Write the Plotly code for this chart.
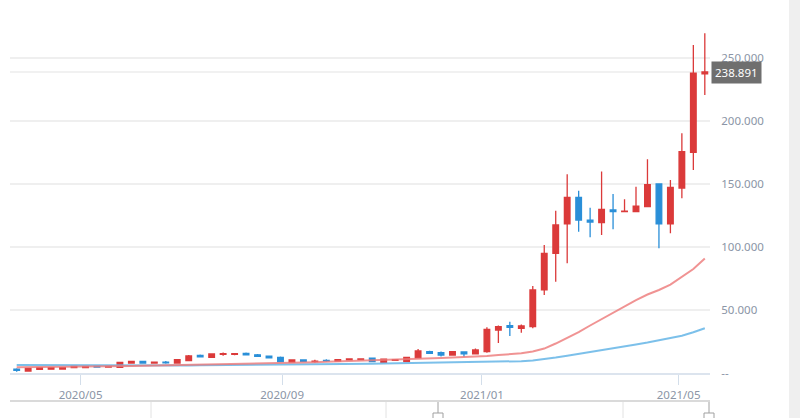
import plotly.graph_objects as go

# ---------------- data ----------------
dates = [
    "2020-03-23", "2020-03-30", "2020-04-06", "2020-04-13", "2020-04-20", "2020-04-27",
    "2020-05-04", "2020-05-11", "2020-05-18", "2020-05-25", "2020-06-01", "2020-06-08",
    "2020-06-15", "2020-06-22", "2020-06-29", "2020-07-06", "2020-07-13", "2020-07-20",
    "2020-07-27", "2020-08-03", "2020-08-10", "2020-08-17", "2020-08-24", "2020-08-31",
    "2020-09-07", "2020-09-14", "2020-09-21", "2020-09-28", "2020-10-05", "2020-10-12",
    "2020-10-19", "2020-10-26", "2020-11-02", "2020-11-09", "2020-11-16", "2020-11-23",
    "2020-11-30", "2020-12-07", "2020-12-14", "2020-12-21", "2020-12-28", "2021-01-04",
    "2021-01-11", "2021-01-18", "2021-01-25", "2021-02-01", "2021-02-08", "2021-02-15",
    "2021-02-22", "2021-03-01", "2021-03-08", "2021-03-15", "2021-03-22", "2021-03-29",
    "2021-04-05", "2021-04-12", "2021-04-19", "2021-04-26", "2021-05-03", "2021-05-10",
    "2021-05-17",
]

open_ = [3000, 1600, 2900, 3000, 3100, 4200, 4300, 5400, 4700, 4500,
         7900, 9300, 7900, 8700, 7900, 9800, 14000, 12500, 14800, 14900,
         15500, 14400, 13400, 12400, 8700, 10300, 9000, 10000, 9500, 10400,
         10600, 11700, 8500, 10000, 9000, 12100, 16900, 16100, 14300, 16700,
         15100, 16900, 34100, 37500, 35500, 36800, 65900, 95000, 118300, 139400,
         121400, 119300, 129400, 128000, 128000, 132000, 150000, 118300, 146800, 175200,
         237500]
high = [3700, 4000, 4500, 4500, 4600, 5800, 5500, 5800, 5700, 9000,
        9600, 9700, 9000, 9600, 10900, 14300, 14600, 15500, 16200, 15900,
        16200, 15000, 13900, 13000, 10700, 10600, 10500, 11000, 10800, 11300,
        11300, 12000, 11000, 10800, 12600, 19000, 17600, 17000, 17500, 17200,
        19500, 36300, 37700, 40700, 38500, 69100, 101600, 128800, 157700, 144700,
        131200, 160000, 142000, 137900, 147900, 169600, 150500, 153200, 190200, 260300,
        269600]
low = [1000, 1300, 2600, 2800, 2900, 4000, 4100, 4500, 4500, 4200,
       7600, 7600, 7700, 7300, 7600, 9500, 12600, 12200, 13700, 14100,
       14000, 12800, 11600, 8500, 8400, 9000, 8200, 9000, 9300, 10200,
       10400, 8700, 8200, 9800, 8800, 11800, 15300, 13000, 14000, 12900,
       14800, 16000, 23800, 29400, 32000, 35500, 61900, 72500, 87100, 112100,
       107700, 109500, 114000, 127500, 127500, 131500, 99000, 110900, 138700, 161100,
       220600]
close = [2200, 3700, 4200, 4200, 4300, 5500, 5200, 4700, 5400, 8500,
         9300, 7900, 8700, 8100, 10600, 13500, 12900, 15100, 15400, 15300,
         14500, 13200, 12000, 9000, 10300, 9300, 9500, 9600, 10500, 11100,
         11100, 9000, 10900, 10600, 12400, 17500, 15600, 14300, 16900, 15100,
         18300, 34700, 36800, 36300, 37300, 65900, 95000, 117500, 139400, 121400,
         119800, 129900, 128000, 128500, 132500, 149400, 118300, 147400, 175600, 237900,
         238891]

ma_red = [4600, 4650, 4700, 4750, 4850, 4950, 5050, 5150, 5300, 5450,
          5600, 5750, 5900, 6050, 6200, 6400, 6600, 6800, 7000, 7250,
          7500, 7700, 7900, 8050, 8200, 8400, 8600, 8850, 9100, 9350,
          9650, 9950, 10250, 10600, 10900, 11250, 11600, 11950, 12250, 12550,
          12900, 13500, 14200, 14900, 15700, 17000, 19400, 23400, 27800, 32500,
          37700, 42900, 48000, 53200, 57900, 62300, 65900, 70200, 76200, 82500,
          90900]
ma_blue = [6300, 6250, 6200, 6150, 6100, 6050, 6000, 5950, 5950, 5950,
           5950, 5950, 5950, 6000, 6000, 6050, 6100, 6150, 6200, 6250,
           6300, 6400, 6500, 6600, 6700, 6800, 6900, 7000, 7100, 7200,
           7300, 7400, 7500, 7650, 7800, 7900, 8000, 8100, 8200, 8300,
           8400, 8600, 8800, 9100, 9400, 10000, 11000, 12300, 13700, 15100,
           16700, 18500, 19900, 21200, 22700, 24200, 25800, 27500, 29600, 32300,
           35500]

x_tickvals = ["2020-05-01", "2020-09-01", "2021-01-01", "2021-05-01"]
x_ticktext = ["2020/05", "2020/09", "2021/01", "2021/05"]
y_tickvals = [0, 50000, 100000, 150000, 200000, 250000]
y_ticktext = ["--", "50.000", "100.000", "150.000", "200.000", "250.000"]
last_label = "238.891"

# ---------------- figure ----------------
RED = "#db3a3a"
BLUE = "#2a8fd8"
FONT = "Noto Sans"
LABEL = "#8b95a6"

fig = go.Figure()
fig.add_trace(go.Scatter(x=dates, y=ma_blue, mode="lines",
                         line=dict(color="rgba(110,185,232,0.9)", width=2),
                         hoverinfo="skip", showlegend=False))
fig.add_trace(go.Scatter(x=dates, y=ma_red, mode="lines",
                         line=dict(color="rgba(236,120,120,0.8)", width=2),
                         hoverinfo="skip", showlegend=False))
fig.add_trace(go.Candlestick(
    x=dates, open=open_, high=high, low=low, close=close,
    increasing=dict(line=dict(color=RED, width=1.3), fillcolor=RED),
    decreasing=dict(line=dict(color=BLUE, width=1.3), fillcolor=BLUE),
    whiskerwidth=0, showlegend=False))

def px(xp):
    return (xp - 10) / 700.0

def py(yp):
    return (373 - yp) / 363.0

shapes = []
# current price line
shapes.append(dict(type="line", xref="paper", yref="y", x0=0, x1=1,
                   y0=close[-1], y1=close[-1],
                   line=dict(color="#ececec", width=1.5), layer="below"))
# data-zoom slider area
shapes.append(dict(type="line", xref="paper", yref="paper", x0=px(10), x1=px(710),
                   y0=py(401), y1=py(401), line=dict(color="#dadada", width=2)))
for xv in [151, 386, 623]:
    shapes.append(dict(type="line", xref="paper", yref="paper", x0=px(xv), x1=px(xv),
                       y0=py(402), y1=py(420), line=dict(color="#e2e2e2", width=1)))
for xv in [438, 709]:
    shapes.append(dict(type="line", xref="paper", yref="paper", x0=px(xv), x1=px(xv),
                       y0=py(402), y1=py(413), line=dict(color="#a0a0a0", width=1)))
    shapes.append(dict(type="rect", xref="paper", yref="paper", x0=px(xv - 5), x1=px(xv + 5),
                       y0=py(413), y1=py(422), line=dict(color="#a0a0a0", width=1),
                       fillcolor="#ffffff"))
# right grey scrollbar
shapes.append(dict(type="rect", xref="paper", yref="paper", x0=px(789), x1=px(801),
                   y0=py(-2), y1=py(420), line=dict(width=0), fillcolor="#efefef"))

fig.update_layout(
    width=800, height=418,
    margin=dict(l=10, r=90, t=10, b=45),
    paper_bgcolor="white", plot_bgcolor="white",
    font=dict(family=FONT, size=11.5, color=LABEL),
    showlegend=False,
    shapes=shapes,
    xaxis=dict(
        type="date",
        range=["2020-03-18 22:00", "2021-05-20 04:00"],
        rangeslider=dict(visible=False),
        showgrid=False, zeroline=False,
        showline=True, linecolor="#dce4ee", linewidth=2,
        ticks="outside", ticklen=10, tickcolor="#d3deea", tickwidth=1,
        tickvals=x_tickvals, ticktext=x_ticktext,
        tickfont=dict(family=FONT, size=11.5, color=LABEL),
    ),
    yaxis=dict(
        side="right",
        range=[0, 288100],
        showgrid=True, gridcolor="#efefef", gridwidth=1.5,
        zeroline=False, showline=False,
        tickvals=y_tickvals, ticktext=y_ticktext,
        ticks="outside", ticklen=8, tickcolor="rgba(0,0,0,0)",
        tickfont=dict(family=FONT, size=11.5, color=LABEL),
    ),
    annotations=[dict(
        xref="paper", yref="y", x=1.0, y=close[-1], xanchor="left", yanchor="middle",
        text=last_label, showarrow=False,
        font=dict(family=FONT, size=11.5, color="white"),
        bgcolor="#6f6f6f", borderpad=3, xshift=1,
    )],
)

fig.write_html("out.html")
